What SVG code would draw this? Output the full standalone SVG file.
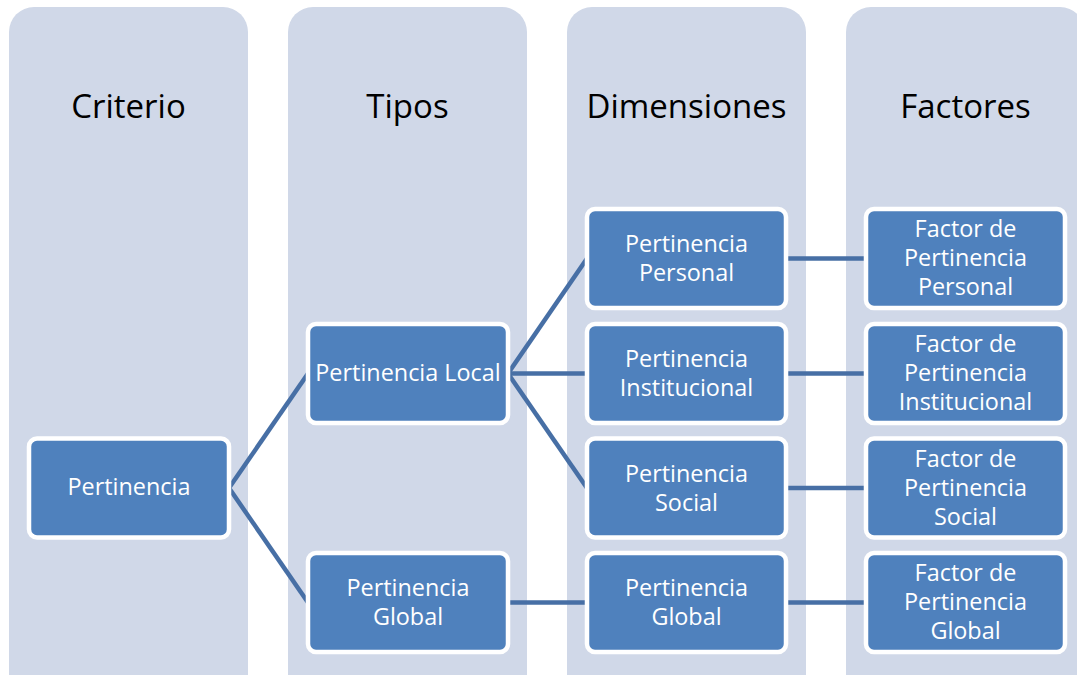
<svg xmlns="http://www.w3.org/2000/svg" width="1077" height="675" viewBox="0 0 1077 675">
<style>
.col{fill:#D0D8E8}
.hdr{font-family:"Open Sans","Liberation Sans",sans-serif;font-size:33px;fill:#000;text-anchor:middle}
.node rect{fill:#4F81BD;stroke:#FFFFFF;stroke-width:4.5}
.node text{font-family:"Open Sans","Liberation Sans",sans-serif;font-size:23.4px;fill:#FFFFFF;text-anchor:middle}
.conn line{stroke:#476FA5;stroke-width:4.5}
</style>
<rect width="1077" height="675" fill="#FFFFFF"/>
<g id="columns">
<rect class="col" x="9" y="7" width="239" height="720" rx="25"/>
<rect class="col" x="288" y="7" width="239" height="720" rx="25"/>
<rect class="col" x="567" y="7" width="239" height="720" rx="25"/>
<rect class="col" x="846" y="7" width="239" height="720" rx="25"/>
<text class="hdr" x="128.5" y="118">Criterio</text>
<text class="hdr" x="407.5" y="118">Tipos</text>
<text class="hdr" x="686.5" y="118">Dimensiones</text>
<text class="hdr" x="965.5" y="118">Factores</text>
</g>
<g id="connectors" class="conn">
<line x1="229" y1="488" x2="308" y2="373.5"/>
<line x1="229" y1="488" x2="308" y2="602.5"/>
<line x1="508" y1="373.5" x2="587" y2="258.5"/>
<line x1="508" y1="373.5" x2="587" y2="373.5"/>
<line x1="508" y1="373.5" x2="587" y2="488"/>
<line x1="508" y1="602.5" x2="587" y2="602.5"/>
<line x1="786" y1="258.5" x2="866" y2="258.5"/>
<line x1="786" y1="373.5" x2="866" y2="373.5"/>
<line x1="786" y1="488" x2="866" y2="488"/>
<line x1="786" y1="602.5" x2="866" y2="602.5"/>
</g>
<g id="n-pertinencia" class="node">
<rect x="29" y="438.5" width="200" height="99" rx="8"/>
<text x="129" y="495">Pertinencia</text>
</g>
<g id="n-local" class="node">
<rect x="308" y="324" width="200" height="99" rx="8"/>
<text x="408" y="381">Pertinencia Local</text>
</g>
<g id="n-global" class="node">
<rect x="308" y="553" width="200" height="99" rx="8"/>
<text x="408" y="596">Pertinencia</text>
<text x="408" y="625">Global</text>
</g>
<g id="n-dim-personal" class="node">
<rect x="587" y="209" width="199" height="99" rx="8"/>
<text x="686.5" y="252">Pertinencia</text>
<text x="686.5" y="281">Personal</text>
</g>
<g id="n-dim-institucional" class="node">
<rect x="587" y="324" width="199" height="99" rx="8"/>
<text x="686.5" y="367">Pertinencia</text>
<text x="686.5" y="396">Institucional</text>
</g>
<g id="n-dim-social" class="node">
<rect x="587" y="438.5" width="199" height="99" rx="8"/>
<text x="686.5" y="481.5">Pertinencia</text>
<text x="686.5" y="510.5">Social</text>
</g>
<g id="n-dim-global" class="node">
<rect x="587" y="553" width="199" height="99" rx="8"/>
<text x="686.5" y="596">Pertinencia</text>
<text x="686.5" y="625">Global</text>
</g>
<g id="n-fac-personal" class="node">
<rect x="866" y="209" width="199" height="99" rx="8"/>
<text x="965.5" y="237">Factor de</text>
<text x="965.5" y="266">Pertinencia</text>
<text x="965.5" y="295">Personal</text>
</g>
<g id="n-fac-institucional" class="node">
<rect x="866" y="324" width="199" height="99" rx="8"/>
<text x="965.5" y="352">Factor de</text>
<text x="965.5" y="381">Pertinencia</text>
<text x="965.5" y="410">Institucional</text>
</g>
<g id="n-fac-social" class="node">
<rect x="866" y="438.5" width="199" height="99" rx="8"/>
<text x="965.5" y="466.5">Factor de</text>
<text x="965.5" y="495.5">Pertinencia</text>
<text x="965.5" y="524.5">Social</text>
</g>
<g id="n-fac-global" class="node">
<rect x="866" y="553" width="199" height="99" rx="8"/>
<text x="965.5" y="581">Factor de</text>
<text x="965.5" y="610">Pertinencia</text>
<text x="965.5" y="639">Global</text>
</g>
</svg>
